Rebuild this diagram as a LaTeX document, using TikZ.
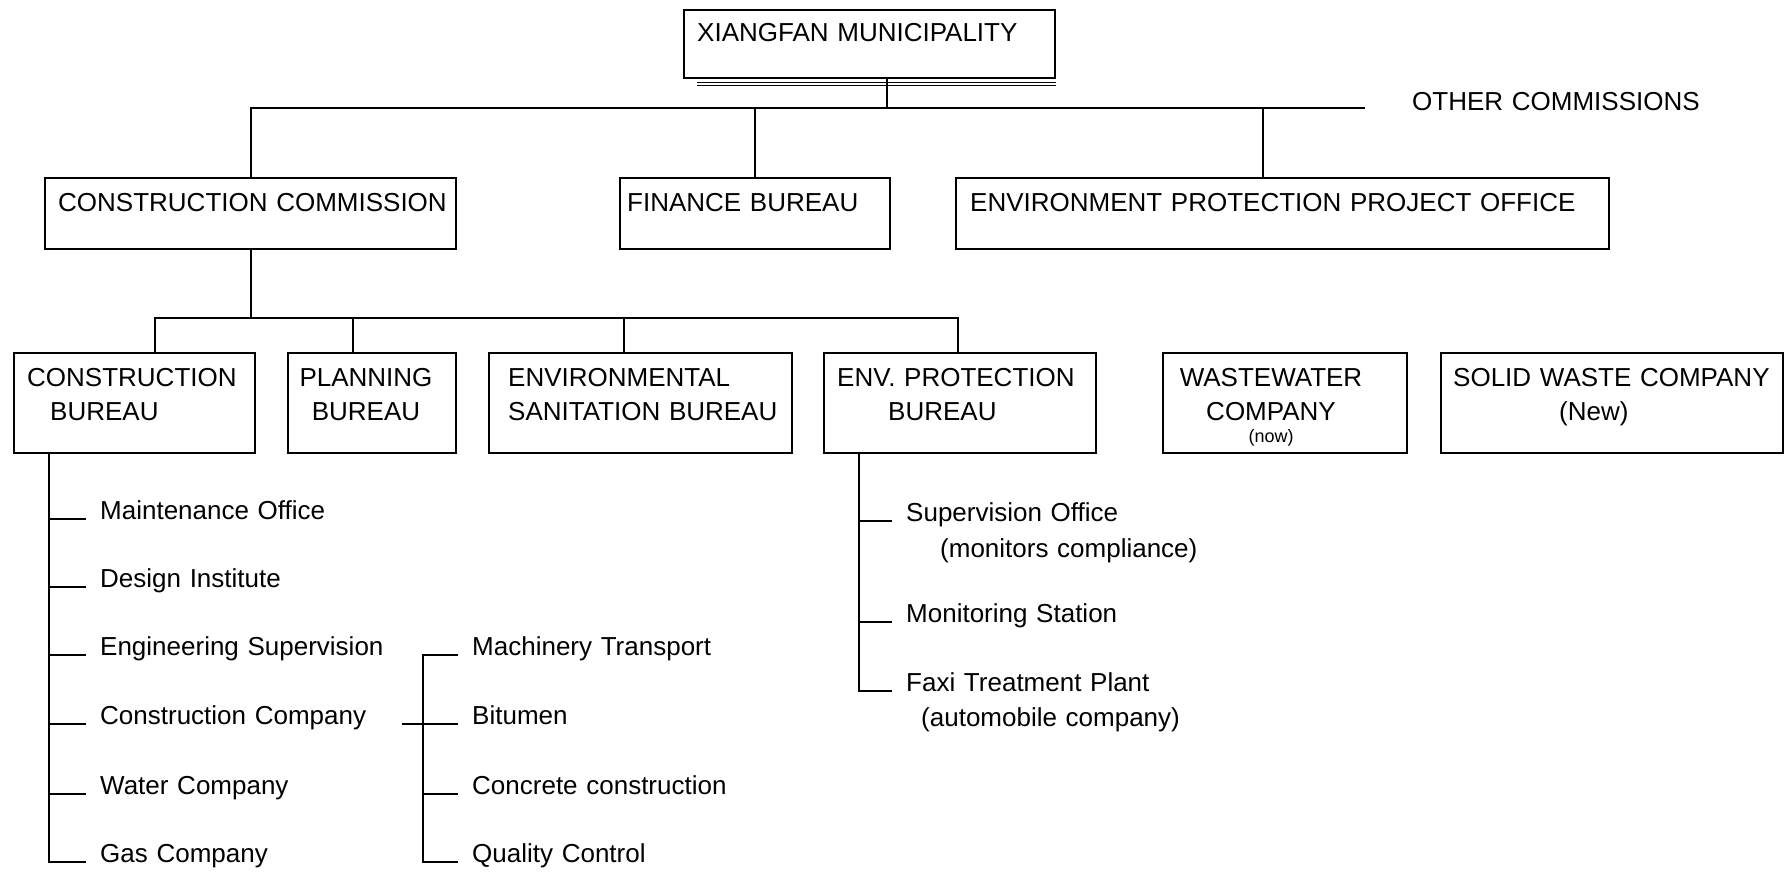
\documentclass[tikz,border=0pt]{standalone}
\usepackage{fontspec}
\setmainfont{Liberation Sans}
\usepackage{tikz}
\tikzset{box/.style={draw, line width=2pt, anchor=north west, inner sep=0pt}}
\tikzset{txt/.style={anchor=base west, inner sep=0pt, align=left, text width=#1}}
\tikzset{ctxt/.style={anchor=base, inner sep=0pt, align=center, text width=#1}}
\tikzset{item/.style={anchor=base west, inner xsep=15pt, inner ysep=0pt, align=left, text width=#1}}
\tikzset{edge/.style={line width=2pt, line cap=rect}}
\tikzset{txt/.default=700pt}
\tikzset{ctxt/.default=300pt}
\tikzset{item/.default=340pt}

\begin{document}
\begin{tikzpicture}[x=1pt, y=-1pt, font=\fontsize{26}{34}\selectfont]
  \useasboundingbox (0,0) rectangle (1789,871);

  % boxes
  \node (muni) at (683,9)[box, minimum width=371pt, minimum height=68pt]{};
  \node (cc) at (44,177)[box, minimum width=411pt, minimum height=71pt]{};
  \node (fin) at (619,177)[box, minimum width=270pt, minimum height=71pt]{};
  \node (eppo) at (955,177)[box, minimum width=653pt, minimum height=71pt]{};
  \node (cb) at (13,352)[box, minimum width=241pt, minimum height=100pt]{};
  \node (pb) at (287,352)[box, minimum width=168pt, minimum height=100pt]{};
  \node (esb) at (488,352)[box, minimum width=303pt, minimum height=100pt]{};
  \node (epb) at (823,352)[box, minimum width=272pt, minimum height=100pt]{};
  \node (ww) at (1162,352)[box, minimum width=244pt, minimum height=100pt]{};
  \node (swc) at (1440,352)[box, minimum width=342pt, minimum height=100pt]{};

  \node (munit) at (697,41)[txt]{XIANGFAN MUNICIPALITY};
  \node (other) at (1412,110)[txt]{OTHER COMMISSIONS};
  \node (cct) at (58,211)[txt]{CONSTRUCTION COMMISSION};
  \node (fint) at (627,211)[txt]{FINANCE BUREAU};
  \node (eppot) at (970,211)[txt]{ENVIRONMENT PROTECTION PROJECT OFFICE};
  \node (cbt) at (27,386)[txt]{CONSTRUCTION\\\hspace*{23pt}BUREAU};
  \node (pbt) at (366,386)[ctxt]{PLANNING\\BUREAU};
  \node (esbt) at (508,386)[txt]{ENVIRONMENTAL\\SANITATION BUREAU};
  \node (epbt) at (837,386)[txt]{ENV. PROTECTION\\\hspace*{51pt}BUREAU};
  \node (wwt) at (1271,386)[ctxt]{WASTEWATER\\COMPANY};
  \node (now) at (1271,442)[ctxt, font=\fontsize{18}{18}\selectfont]{(now)};
  \node (swct) at (1453,386)[txt]{SOLID WASTE COMPANY\\\hspace*{106pt}(New)};

  % top two levels
  \draw[double, double distance=1.5pt, line width=1pt] ([xshift=14pt, yshift=-5pt]muni.south west) -- ([yshift=-5pt]muni.south east);
  \coordinate (bus) at (1364,108);
  \coordinate (top) at ([xshift=17pt]muni.south);
  \coordinate (ep) at ([xshift=-20pt]eppo.north);
  \draw[edge] (top) -- (top |- bus);
  \draw[edge] (cc.north) |- (bus);
  \draw[edge] (fin.north) -- (fin.north |- bus);
  \draw[edge] (ep) -- (ep |- bus);

  \coordinate (bus2) at (958,318);
  \coordinate (cbd) at ([xshift=20pt]cb.north);
  \coordinate (pbd) at ([xshift=-19pt]pb.north);
  \coordinate (esd) at ([xshift=-17pt]esb.north);
  \draw[edge] (cc.south) -- (cc.south |- bus2);
  \draw[edge] (cbd) |- (bus2) -- (bus2 |- epb.north);
  \draw[edge] (pbd) -- (pbd |- bus2);
  \draw[edge] (esd) -- (esd |- bus2);

  % construction bureau
  \coordinate (cbs) at ([xshift=36pt]cb.south west);
  \node (mo) at (85,519)[item]{Maintenance Office};
  \node (di) at (85,587)[item]{Design Institute};
  \node (es) at (85,655)[item]{Engineering Supervision};
  \node (cco) at (85,724)[item]{Construction Company};
  \node (wc) at (85,794)[item]{Water Company};
  \node (gc) at (85,862)[item]{Gas Company};
  \draw[edge] (cbs) |- (gc.base west);
  \foreach \n in {mo,di,es,cco,wc}
    \draw[edge] (cbs |- \n.base west) -- (\n.base west);

  \coordinate (sub) at (423,724);
  \coordinate (subd) at (403,724);
  \node (mt) at (457,655)[item]{Machinery Transport};
  \node (bit) at (457,724)[item]{Bitumen};
  \node (ccn) at (457,794)[item]{Concrete construction};
  \node (qc) at (457,862)[item]{Quality Control};
  \draw[edge] (mt.base west) -| (sub) |- (qc.base west);
  \draw[edge] (subd) -- (bit.base west);
  \draw[edge] (sub |- ccn.base west) -- (ccn.base west);

  % env. protection bureau
  \coordinate (eps) at ([xshift=36pt]epb.south west);
  \node (so) at (891,521)[item]{Supervision Office\\[2pt]\hspace*{34pt}(monitors compliance)};
  \node (ms) at (891,622)[item]{Monitoring Station};
  \node (tp) at (891,691)[item]{Faxi Treatment Plant\\[1pt]\hspace*{15pt}(automobile company)};
  \draw[edge] (eps) |- (tp.base west);
  \draw[edge] (eps |- so.base west) -- (so.base west);
  \draw[edge] (eps |- ms.base west) -- (ms.base west);
\end{tikzpicture}
\end{document}
